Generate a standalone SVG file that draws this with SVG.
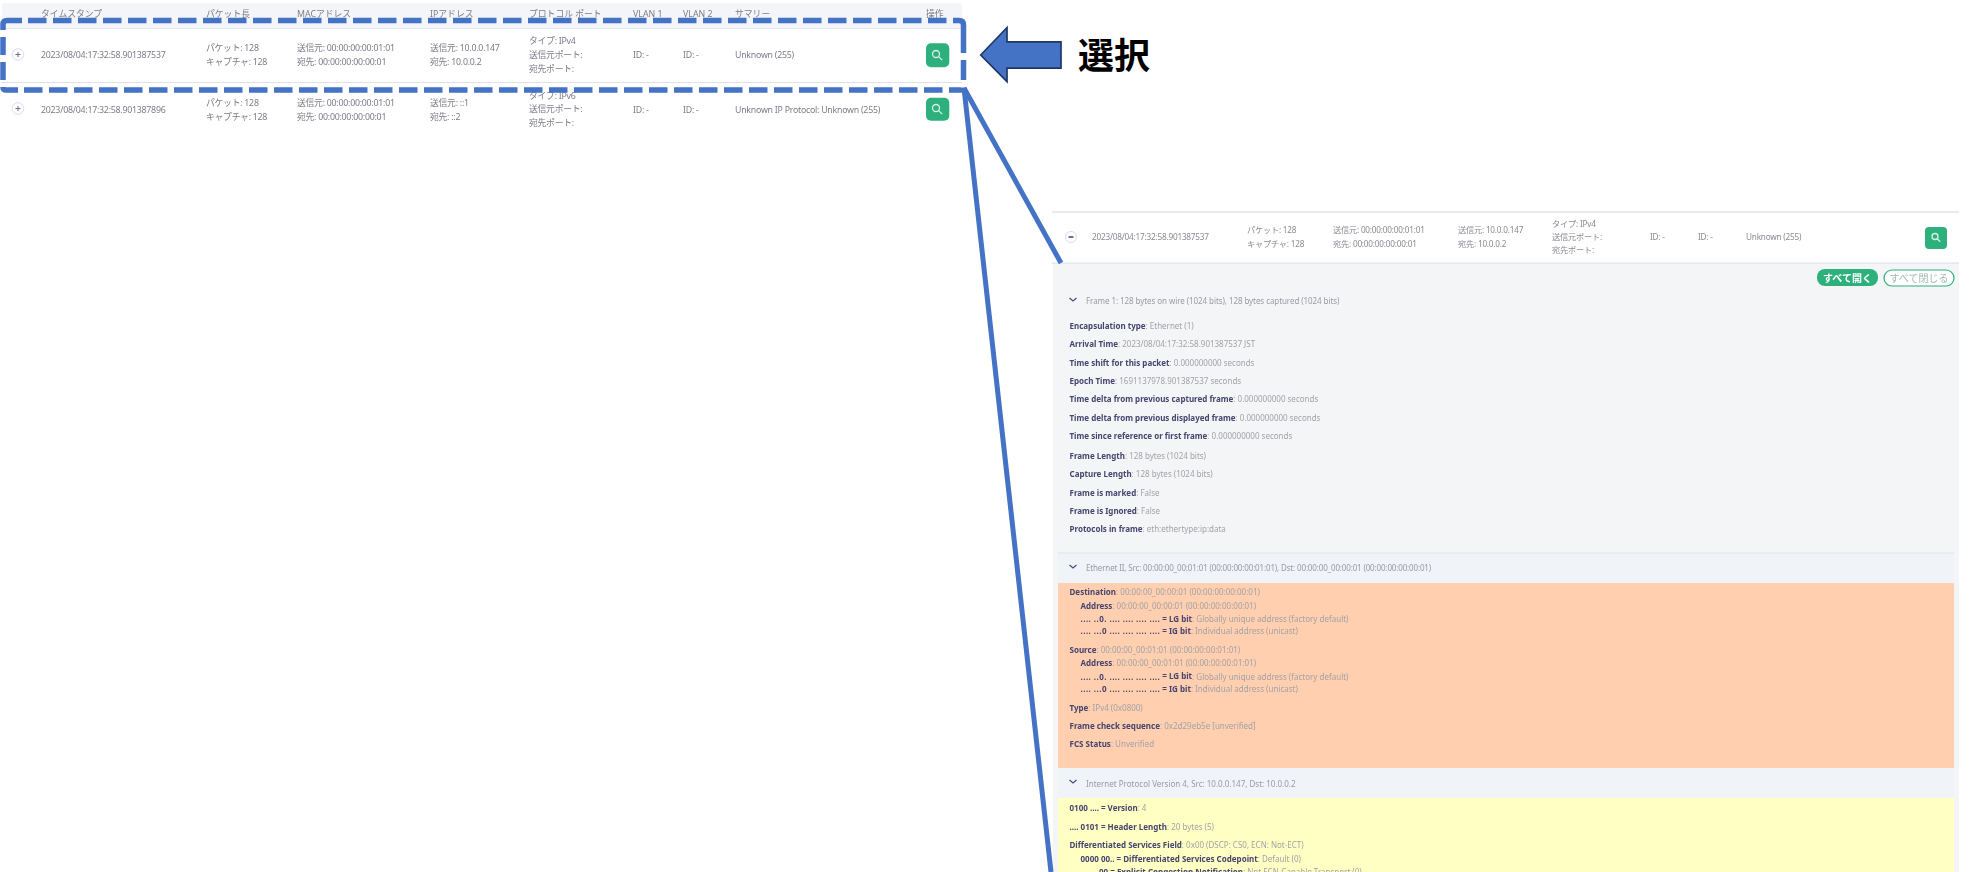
<svg xmlns="http://www.w3.org/2000/svg" width="1972" height="872" viewBox="0 0 1972 872">
<style>
text{font-family:"Noto Sans","Noto Sans CJK JP",sans-serif;dominant-baseline:central}
.t{font-size:8.8px;fill:#7c7c88}
.r{letter-spacing:-.25px}
.s{font-size:8.2px;fill:#8a8a94;letter-spacing:-.2px}
.b{font-weight:700;fill:#45456f;font-size:8px}
.b tspan{font-weight:400;fill:#a2a2a8}
.b tspan.d{font-weight:700;fill:#45456f;letter-spacing:.45px}
.h{font-size:8px;fill:#9a9aa2}
.g{fill:#2db07c}
.i{fill:none;stroke:#d8f2e7;stroke-width:1.3}
.c{fill:#fff;stroke:#d8dce6}
.cm{fill:none;stroke:#6a6f90}
.chev{fill:none;stroke:#4a4f80;stroke-width:1.3}
.band{fill:#f0f3f8}
.sel{fill:none;stroke:#4472c4;stroke-width:5.500}
</style>
<defs>
<filter id="soft" x="-2%" y="-20%" width="104%" height="140%"><feGaussianBlur stdDeviation="0.35"/></filter>
<filter id="softer" x="-2%" y="-5%" width="104%" height="110%"><feGaussianBlur stdDeviation="0.45"/></filter>
</defs>
<rect width="1972" height="872" fill="#fff"/>

<g id="packet-table" filter="url(#soft)">
<rect x="2" y="3" width="960" height="25" rx="3" fill="#f4f5f8"/>
<g class="t">
<text x="41" y="14">タイムスタンプ</text><text x="206" y="14">パケット長</text><text x="297" y="14">MACアドレス</text><text x="430" y="14">IPアドレス</text><text x="529" y="14">プロトコル ポート</text><text x="633" y="14">VLAN 1</text><text x="683" y="14">VLAN 2</text><text x="735" y="14">サマリー</text><text x="926" y="14">操作</text>
</g>
<line x1="2" y1="28.500" x2="962" y2="28.500" stroke="#e6e8ee"/>
<line x1="2" y1="82.500" x2="962" y2="82.500" stroke="#dde1ea"/>
<g class="t r">
<text x="41" y="55">2023/08/04:17:32:58.901387537</text>
<text x="206" y="48">パケット: 128</text><text x="206" y="62">キャプチャ: 128</text>
<text x="297" y="48">送信元: 00:00:00:00:01:01</text><text x="297" y="62">宛先: 00:00:00:00:00:01</text>
<text x="430" y="48">送信元: 10.0.0.147</text><text x="430" y="62">宛先: 10.0.0.2</text>
<text x="529" y="41">タイプ: IPv4</text><text x="529" y="55">送信元ポート:</text><text x="529" y="69">宛先ポート:</text>
<text x="633" y="55">ID: -</text><text x="683" y="55">ID: -</text><text x="735" y="55">Unknown (255)</text>
<text x="41" y="110">2023/08/04:17:32:58.901387896</text>
<text x="206" y="103">パケット: 128</text><text x="206" y="117">キャプチャ: 128</text>
<text x="297" y="103">送信元: 00:00:00:00:01:01</text><text x="297" y="117">宛先: 00:00:00:00:00:01</text>
<text x="430" y="103">送信元: ::1</text><text x="430" y="117">宛先: ::2</text>
<text x="529" y="96">タイプ: IPv6</text><text x="529" y="109">送信元ポート:</text><text x="529" y="123">宛先ポート:</text>
<text x="633" y="110">ID: -</text><text x="683" y="110">ID: -</text><text x="735" y="110">Unknown IP Protocol: Unknown (255)</text>
</g>
<circle class="c" cx="18" cy="54.500" r="5.800"/><path class="cm" d="M15.500 54.500h5M18 52v5"/>
<circle class="c" cx="18" cy="108.500" r="5.800"/><path class="cm" d="M15.500 108.500h5M18 106v5"/>
<rect class="g" x="926" y="43.300" width="23.300" height="24" rx="5"/>
<circle class="i" cx="936" cy="54" r="3.500"/><path class="i" d="M938.600 56.600l3.700 3.500"/>
<rect class="g" x="926" y="97.700" width="23.300" height="23" rx="5"/>
<circle class="i" cx="936" cy="108" r="3.500"/><path class="i" d="M938.600 110.600l3.700 3.500"/>
</g>

<g id="packet-detail" filter="url(#softer)">
<line x1="1052" y1="212" x2="1959" y2="212" stroke="#e3e5ea" stroke-width="1.500"/>
<rect x="1053" y="263" width="906" height="609" fill="#f4f5f7"/>
<line x1="1052" y1="263" x2="1959" y2="263" stroke="#dcdee3" stroke-width="1.200"/>
<g class="s">
<text x="1092" y="236">2023/08/04:17:32:58.901387537</text>
<text x="1247" y="229">パケット: 128</text><text x="1247" y="243">キャプチャ: 128</text>
<text x="1333" y="229">送信元: 00:00:00:00:01:01</text><text x="1333" y="243">宛先: 00:00:00:00:00:01</text>
<text x="1458" y="229">送信元: 10.0.0.147</text><text x="1458" y="243">宛先: 10.0.0.2</text>
<text x="1552" y="223">タイプ: IPv4</text><text x="1552" y="236">送信元ポート:</text><text x="1552" y="249">宛先ポート:</text>
<text x="1650" y="236">ID: -</text><text x="1698" y="236">ID: -</text><text x="1746" y="236">Unknown (255)</text>
</g>
<circle class="c" cx="1071" cy="237" r="5.500"/><path d="M1068.500 237h5" stroke="#3d4270" stroke-width="1.500"/>
<rect class="g" x="1925" y="227" width="22" height="22" rx="4"/>
<circle class="i" cx="1935" cy="236.500" r="3"/><path class="i" d="M1937.200 238.700l3 3"/>
<rect class="g" x="1817" y="269" width="61" height="17" rx="8"/>
<text x="1847.500" y="277.500" text-anchor="middle" font-size="10" font-weight="700" fill="#fff">すべて開く</text>
<rect x="1884" y="270" width="70" height="16" rx="8" fill="#fff" stroke="#2db07c" stroke-width="1.200"/>
<text x="1919" y="277.800" text-anchor="middle" font-size="10" fill="#9fb8ae">すべて閉じる</text>

<path class="chev" d="M1069.500 298l3.500 3 3.500-3"/>
<text class="h" x="1086" y="300" letter-spacing="-.07">Frame 1: 128 bytes on wire (1024 bits), 128 bytes captured (1024 bits)</text>
<g class="b">
<text x="1069.500" y="325">Encapsulation type<tspan>: Ethernet (1)</tspan></text>
<text x="1069.500" y="343">Arrival Time<tspan>: 2023/08/04:17:32:58.901387537 JST</tspan></text>
<text x="1069.500" y="362">Time shift for this packet<tspan>: 0.000000000 seconds</tspan></text>
<text x="1069.500" y="380">Epoch Time<tspan>: 1691137978.901387537 seconds</tspan></text>
<text x="1069.500" y="398">Time delta from previous captured frame<tspan>: 0.000000000 seconds</tspan></text>
<text x="1069.500" y="417">Time delta from previous displayed frame<tspan>: 0.000000000 seconds</tspan></text>
<text x="1069.500" y="435">Time since reference or first frame<tspan>: 0.000000000 seconds</tspan></text>
<text x="1069.500" y="455">Frame Length<tspan>: 128 bytes (1024 bits)</tspan></text>
<text x="1069.500" y="473">Capture Length<tspan>: 128 bytes (1024 bits)</tspan></text>
<text x="1069.500" y="492">Frame is marked<tspan>: False</tspan></text>
<text x="1069.500" y="510">Frame is Ignored<tspan>: False</tspan></text>
<text x="1069.500" y="528">Protocols in frame<tspan>: eth:ethertype:ip:data</tspan></text>
</g>
<rect class="band" x="1058" y="553" width="896" height="30"/>
<line x1="1058" y1="553" x2="1954" y2="553" stroke="#dfe2e8"/>
<path class="chev" d="M1069.500 565l3.500 3 3.500-3"/>
<text class="h" x="1086" y="567" letter-spacing="-.15">Ethernet II, Src: 00:00:00_00:01:01 (00:00:00:00:01:01), Dst: 00:00:00_00:00:01 (00:00:00:00:00:01)</text>
<rect x="1058" y="583" width="896" height="185" fill="#ffcfaf"/>
<g class="b">
<text x="1069.500" y="591">Destination<tspan>: 00:00:00_00:00:01 (00:00:00:00:00:01)</tspan></text>
<text x="1080.500" y="605">Address<tspan>: 00:00:00_00:00:01 (00:00:00:00:00:01)</tspan></text>
<text x="1080.500" y="618"><tspan class="d">.... ..0. .... .... .... ....</tspan> = LG bit<tspan>: Globally unique address (factory default)</tspan></text>
<text x="1080.500" y="630"><tspan class="d">.... ...0 .... .... .... ....</tspan> = IG bit<tspan>: Individual address (unicast)</tspan></text>
<text x="1069.500" y="649">Source<tspan>: 00:00:00_00:01:01 (00:00:00:00:01:01)</tspan></text>
<text x="1080.500" y="662">Address<tspan>: 00:00:00_00:01:01 (00:00:00:00:01:01)</tspan></text>
<text x="1080.500" y="675.500"><tspan class="d">.... ..0. .... .... .... ....</tspan> = LG bit<tspan>: Globally unique address (factory default)</tspan></text>
<text x="1080.500" y="688"><tspan class="d">.... ...0 .... .... .... ....</tspan> = IG bit<tspan>: Individual address (unicast)</tspan></text>
<text x="1069.500" y="707">Type<tspan>: IPv4 (0x0800)</tspan></text>
<text x="1069.500" y="725">Frame check sequence<tspan>: 0x2d29eb5e [unverified]</tspan></text>
<text x="1069.500" y="743">FCS Status<tspan>: Unverified</tspan></text>
</g>
<rect class="band" x="1058" y="768" width="896" height="30"/>
<path class="chev" d="M1069.500 780l3.500 3 3.500-3"/>
<text class="h" x="1086" y="783">Internet Protocol Version 4, Src: 10.0.0.147, Dst: 10.0.0.2</text>
<rect x="1058" y="798" width="896" height="74" fill="#ffffc4"/>
<g class="b">
<text x="1069.500" y="807">0100 .... = Version<tspan>: 4</tspan></text>
<text x="1069.500" y="826">.... 0101 = Header Length<tspan>: 20 bytes (5)</tspan></text>
<text x="1069.500" y="844">Differentiated Services Field<tspan>: 0x00 (DSCP: CS0, ECN: Not-ECT)</tspan></text>
<text x="1080.500" y="858">0000 00.. = Differentiated Services Codepoint<tspan>: Default (0)</tspan></text>
<text x="1099" y="871">00 = Explicit Congestion Notification<tspan>: Not ECN-Capable Transport (0)</tspan></text>
</g>
</g>

<g id="connectors" fill="none" stroke="#4472c4" stroke-width="5">
<line x1="964" y1="88" x2="1061" y2="263"/>
<line x1="964" y1="88" x2="1051" y2="872"/>
</g>

<g id="selection">
<path class="sel" stroke-dasharray="18.500 6.500" d="M28 20.500H947M24 90H943"/>
<path class="sel" d="M22 20.500H7Q3 20.500 3 24.500V30M3 37V55M3 62V80M3 87Q3 90 6 90H18M953 20.500H959Q963.500 20.500 963.500 25V53M963.500 60V80M949 90H961Q963.500 90 963.500 87.500"/>
</g>

<g id="callout">
<path d="M980.700 55L1007 27.500V41.800H1061V68.200H1007V81.700Z" fill="#4472c4" stroke="#1f3864" stroke-width="1.700"/>
<text x="1078" y="55" font-size="36" font-weight="700" fill="#000">選択</text>
</g>
</svg>
